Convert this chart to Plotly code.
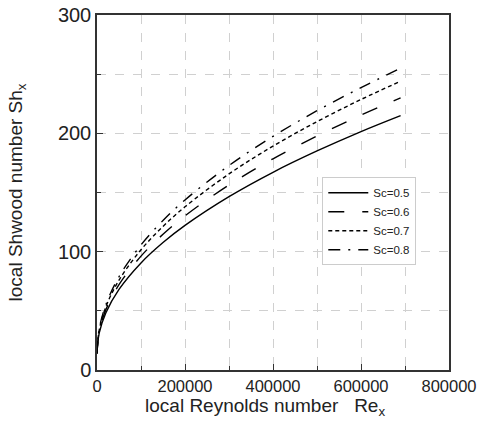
import plotly.graph_objects as go

re_x = [0, 5000, 20000, 50000, 100000, 150000, 200000, 300000, 400000, 500000, 600000, 690000]
sh_05 = [14, 31.1, 48.2, 68.1, 90.5, 107.7, 122.2, 146.5, 167.1, 185.1, 201.5, 215.0]
sh_06 = [14, 32.4, 50.8, 72.1, 96.2, 114.7, 130.3, 156.4, 178.5, 197.8, 215.4, 230.0]
sh_07 = [14, 33.6, 53.2, 75.9, 101.6, 121.3, 137.9, 165.7, 189.2, 209.9, 228.6, 244.0]
sh_08 = [14, 34.5, 55.0, 78.8, 105.7, 126.3, 143.7, 172.8, 197.4, 219.1, 238.6, 255.0]
names = ["Sc=0.5", "Sc=0.6", "Sc=0.7", "Sc=0.8"]
series = [sh_05, sh_06, sh_07, sh_08]
dashes = ["solid", "16px,18px", "4px,3px", "12px,8px,2px,8px"]

fig = go.Figure()
for n, s, d in zip(names, series, dashes):
    fig.add_trace(go.Scatter(x=re_x, y=s, name=n, mode="lines",
                             line=dict(color="black", width=1.4, dash=d, shape="spline")))

font = "Liberation Sans, Arial, sans-serif"
fig.update_layout(
    width=477, height=423,
    margin=dict(l=97, r=28, t=15, b=53, autoexpand=False),
    paper_bgcolor="white", plot_bgcolor="white",
    font=dict(family=font, color="#222", size=14),
    showlegend=True,
    legend=dict(x=0.64, y=0.543, xanchor="left", yanchor="top",
                bordercolor="#cccccc", borderwidth=1, bgcolor="white",
                font=dict(size=11.5, family=font), tracegroupgap=0,
                itemwidth=40),
    xaxis=dict(range=[0, 800000], tickvals=[0, 200000, 400000, 600000, 800000],
               ticktext=["0", "200000", "400000", "600000", "800000"],
               ticklabeloverflow="allow",
               showline=True, linecolor="#333", linewidth=1.5, mirror=True,
               ticks="inside", ticklen=6, tickcolor="#333",
               showgrid=True, gridcolor="#d0d0d0", griddash="dash", gridwidth=1,
               minor=dict(dtick=100000, ticks="inside", ticklen=4, tickcolor="#333",
                          showgrid=True, gridcolor="#d0d0d0", griddash="dash"),
               zeroline=False, tickfont=dict(size=16.5),
               title=dict(text="local Reynolds number   Re<sub>x</sub>&nbsp;&nbsp;&nbsp;",
                          font=dict(size=19), standoff=2)),
    yaxis=dict(range=[0, 300], tickvals=[0, 100, 200, 300],
               showline=True, linecolor="#333", linewidth=1.5, mirror=True,
               ticks="inside", ticklen=6, tickcolor="#333",
               showgrid=True, gridcolor="#d0d0d0", griddash="dash", gridwidth=1,
               minor=dict(dtick=50, ticks="inside", ticklen=4, tickcolor="#333",
                          showgrid=True, gridcolor="#d0d0d0", griddash="dash"),
               zeroline=False, tickfont=dict(size=20),
               title=dict(text="local Shwood number Sh<sub>x</sub>", font=dict(size=19), standoff=30)),
)
fig.write_html("out.html")
